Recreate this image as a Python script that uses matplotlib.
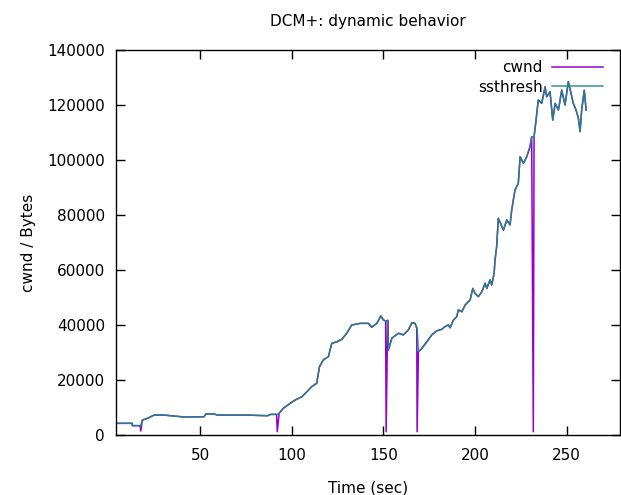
import matplotlib
matplotlib.use("Agg")
import matplotlib.pyplot as plt

# data (time in sec, window in bytes)
time_sec = [4.5, 13.0, 13.0, 17.2, 17.6, 18.5, 21.2, 24.9, 30.3, 35.8, 41.2, 52.2, 53.1, 57.6,
            59.4, 75.8, 86.7, 88.5, 91.7, 92.1, 93.1, 95.4, 99.1, 101.8, 105.5, 108.2, 110.9,
            113.6, 115.1, 117.2, 120.0, 121.8, 124.6, 127.3, 130.0, 132.7, 137.3, 141.8, 143.6, 146.4, 148.6,
            150.0, 151.2, 151.5, 152.3, 152.7, 154.6, 158.2, 160.9, 163.6, 165.5, 167.3, 168.2, 168.4, 169.1,
            170.6, 173.7, 176.4, 179.1, 181.8, 183.6, 185.4, 186.4, 188.2, 190.0, 190.9, 192.8, 194.6,
            196.4, 197.3, 198.8, 200.0, 201.8, 203.7, 205.5, 206.4, 208.2, 209.1, 210.4, 210.9, 211.8, 212.7,
            215.5, 217.3, 219.1, 220.0, 221.8, 223.6, 224.6, 226.4, 228.2, 230.0, 230.9, 231.8, 232.2,
            233.3, 234.5, 236.4, 238.2, 239.1, 240.9, 242.4, 243.7, 245.5, 247.3, 249.1, 250.9, 252.2, 253.6,
            255.1, 256.4, 257.3, 258.2, 259.6, 260.6]
cwnd = [4250, 4250, 3400, 3400, 1450, 5450, 6050, 7250, 7250, 6900, 6550, 6650, 7650, 7650,
        7250, 7250, 7000, 7500, 7500, 1200, 7900, 9700, 11500, 12700, 13900, 15700, 17600,
        18800, 24800, 27300, 28500, 33300, 33900, 34800, 37000, 40000, 40600, 40600, 39200, 40600, 43300,
        41800, 41500, 1200, 41800, 30900, 35200, 37000, 36400, 38200, 40800, 40600, 38900, 1200, 30300,
        31200, 33900, 36400, 37900, 38400, 39400, 40000, 39000, 41800, 43000, 45500, 44800, 47300,
        48500, 49100, 53300, 51500, 50300, 52100, 55200, 53300, 56400, 54500, 58800, 63600, 68500, 78800,
        74500, 78200, 76400, 81800, 89100, 91500, 101200, 98800, 101200, 104800, 108400, 1200, 108500,
        114500, 121800, 120600, 126600, 123000, 124800, 114500, 120600, 118200, 125400, 120000, 128500, 124800, 120600,
        118200, 115200, 110300, 118200, 125400, 118200]
ssthresh = [4250, 4250, 3400, 3400, 3400, 5450, 6050, 7250, 7250, 6900, 6550, 6650, 7650, 7650,
            7250, 7250, 7000, 7500, 7500, 7500, 7900, 9700, 11500, 12700, 13900, 15700, 17600,
            18800, 24800, 27300, 28500, 33300, 33900, 34800, 37000, 40000, 40600, 40600, 39200, 40600, 43300,
            41800, 41500, 41500, 41500, 30900, 35200, 37000, 36400, 38200, 40800, 40600, 38900, 38900, 30300,
            31200, 33900, 36400, 37900, 38400, 39400, 40000, 39000, 41800, 43000, 45500, 44800, 47300,
            48500, 49100, 53300, 51500, 50300, 52100, 55200, 53300, 56400, 54500, 58800, 63600, 68500, 78800,
            74500, 78200, 76400, 81800, 89100, 91500, 101200, 98800, 101200, 104800, 108400, 108400, 108400,
            114500, 121800, 120600, 126600, 123000, 124800, 114500, 120600, 118200, 125400, 120000, 128500, 124800, 120600,
            118200, 115200, 110300, 118200, 125400, 118200]

x_ticks = [50, 100, 150, 200, 250]
y_ticks = [0, 20000, 40000, 60000, 80000, 100000, 120000, 140000]

plt.rcParams['font.family'] = 'DejaVu Sans'
fig = plt.figure(figsize=(6.21, 4.95), dpi=100)
ax = fig.add_axes([0.1868, 0.1212, 0.8116, 0.7778])

ax.plot(time_sec, cwnd, color='#9400d3', lw=1.1, label='cwnd')
ax.plot(time_sec, ssthresh, color='#1b8a80', lw=1.1, alpha=0.9, label='ssthresh')

ax.set_xlim(4.1, 279.1)
ax.set_ylim(0, 140000)
ax.set_xticks(x_ticks)
ax.set_yticks(y_ticks)
ax.tick_params(direction='in', length=6.5, width=1, top=True, right=True,
               labelsize=11, pad=8, colors='black')
ax.tick_params(axis='x', pad=9)
for s in ax.spines.values():
    s.set_linewidth(1)

ax.set_title("DCM+: dynamic behavior", fontsize=11, pad=17)
ax.set_xlabel("Time (sec)", fontsize=11, labelpad=13)
ax.set_ylabel("cwnd / Bytes", fontsize=11, labelpad=8)

ax.legend(loc='upper right', bbox_to_anchor=(0.966, 0.974), frameon=False,
          markerfirst=False, fontsize=11, handlelength=3.3, handletextpad=0.65,
          labelspacing=0.3, borderaxespad=0, borderpad=0)

fig.savefig("out.png", dpi=100)
